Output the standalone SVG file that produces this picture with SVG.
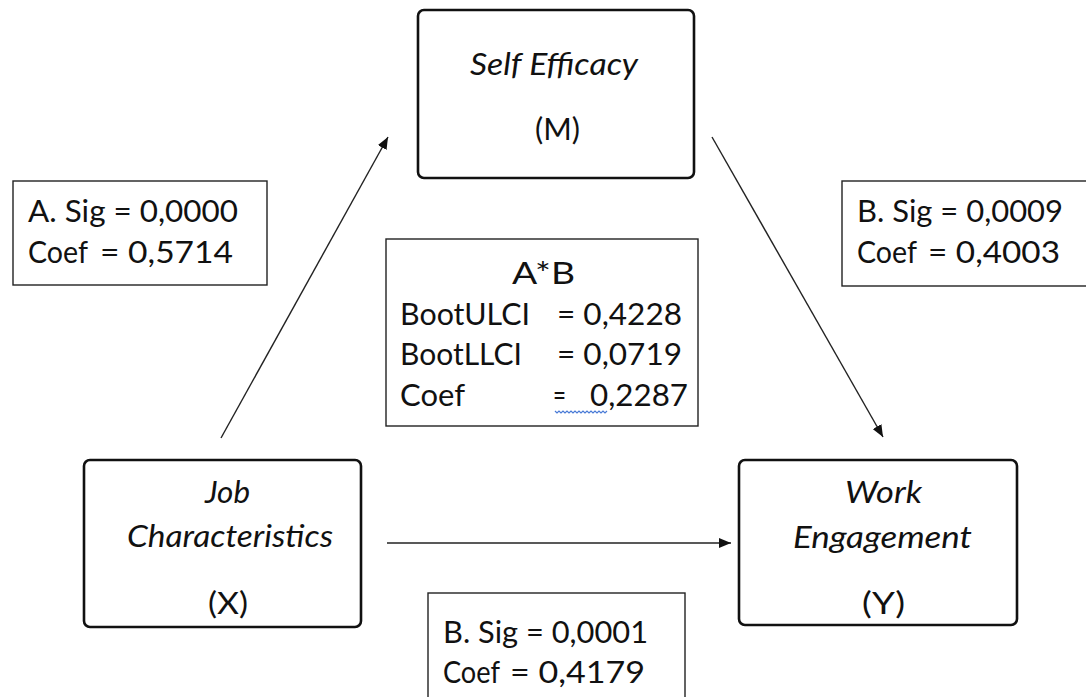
<svg xmlns="http://www.w3.org/2000/svg" width="1086" height="697" viewBox="0 0 1086 697">
<style>
text{font-family:Lato,"Liberation Sans",sans-serif;font-size:31px;fill:#111}
.it{font-style:italic}
.node{fill:#fff;stroke:#111;stroke-width:2.6}
.lbl{fill:#fff;stroke:#222;stroke-width:1.4}
.con{stroke:#222;stroke-width:1.4;fill:none}
</style>
<defs>
<marker id="ah" viewBox="0 0 12 10" refX="12" refY="5" markerWidth="12" markerHeight="10" markerUnits="userSpaceOnUse" orient="auto">
<path d="M0,0 L12,5 L0,10 z" fill="#111"/>
</marker>
</defs>
<rect width="1086" height="697" fill="#fff"/>
<g id="connectors">
<line class="con" x1="221" y1="438" x2="388" y2="137" marker-end="url(#ah)"/>
<line class="con" x1="712" y1="137" x2="883" y2="437" marker-end="url(#ah)"/>
<line class="con" x1="387" y1="543" x2="731" y2="543" marker-end="url(#ah)"/>
</g>
<g id="node-m">
<rect class="node" x="418" y="10" width="276" height="168" rx="6"/>
<text class="it" x="470" y="75" textLength="168" lengthAdjust="spacingAndGlyphs">Self Efficacy</text>
<text x="535" y="140" textLength="45" lengthAdjust="spacingAndGlyphs">(M)</text>
</g>
<g id="node-x">
<rect class="node" x="84" y="460" width="277" height="167" rx="6"/>
<text class="it" x="205" y="503" textLength="45" lengthAdjust="spacingAndGlyphs">Job</text>
<text class="it" x="127" y="547" textLength="206" lengthAdjust="spacingAndGlyphs">Characteristics</text>
<text x="208" y="614" textLength="40" lengthAdjust="spacingAndGlyphs">(X)</text>
</g>
<g id="node-y">
<rect class="node" x="739" y="460" width="278" height="165" rx="6"/>
<text class="it" x="845" y="503" textLength="77" lengthAdjust="spacingAndGlyphs">Work</text>
<text class="it" x="793" y="548" textLength="179" lengthAdjust="spacingAndGlyphs">Engagement</text>
<text x="862" y="614" textLength="43" lengthAdjust="spacingAndGlyphs">(Y)</text>
</g>
<g id="label-a">
<rect class="lbl" x="13" y="181" width="254" height="104"/>
<text x="28" y="222" textLength="210" lengthAdjust="spacingAndGlyphs">A. Sig = 0,0000</text>
<text x="28" y="263" textLength="60" lengthAdjust="spacingAndGlyphs">Coef</text>
<text x="100" y="263" textLength="133" lengthAdjust="spacingAndGlyphs">= 0,5714</text>
</g>
<g id="label-b">
<rect class="lbl" x="842" y="181" width="260" height="105"/>
<text x="857" y="222" textLength="206" lengthAdjust="spacingAndGlyphs">B. Sig = 0,0009</text>
<text x="857" y="263" textLength="60" lengthAdjust="spacingAndGlyphs">Coef</text>
<text x="928" y="263" textLength="132" lengthAdjust="spacingAndGlyphs">= 0,4003</text>
</g>
<g id="label-ab">
<rect class="lbl" x="386" y="239" width="312" height="187"/>
<text x="512" y="284" textLength="63" lengthAdjust="spacingAndGlyphs">A*B</text>
<text x="400" y="325" textLength="130" lengthAdjust="spacingAndGlyphs">BootULCI</text>
<text x="557" y="325" textLength="125" lengthAdjust="spacingAndGlyphs">= 0,4228</text>
<text x="400" y="365" textLength="122" lengthAdjust="spacingAndGlyphs">BootLLCI</text>
<text x="557" y="365" textLength="125" lengthAdjust="spacingAndGlyphs">= 0,0719</text>
<text x="400" y="406" textLength="65" lengthAdjust="spacingAndGlyphs">Coef</text>
<text x="553" y="406" textLength="13" lengthAdjust="spacingAndGlyphs">=</text>
<text x="590" y="406" textLength="98" lengthAdjust="spacingAndGlyphs">0,2287</text>
<path d="M555,411 l2,2 l2,-2 l2,2 l2,-2 l2,2 l2,-2 l2,2 l2,-2 l2,2 l2,-2 l2,2 l2,-2 l2,2 l2,-2 l2,2 l2,-2 l2,2 l2,-2 l2,2 l2,-2 l2,2 l2,-2 l2,2 l2,-2 l2,2 l2,-2" fill="none" stroke="#4a7bd6" stroke-width="1.2"/>
</g>
<g id="label-direct">
<rect class="lbl" x="428" y="593" width="257" height="110"/>
<text x="443" y="643" textLength="205" lengthAdjust="spacingAndGlyphs">B. Sig = 0,0001</text>
<text x="443" y="683" textLength="57" lengthAdjust="spacingAndGlyphs">Coef</text>
<text x="510" y="683" textLength="135" lengthAdjust="spacingAndGlyphs">= 0,4179</text>
</g>
</svg>
